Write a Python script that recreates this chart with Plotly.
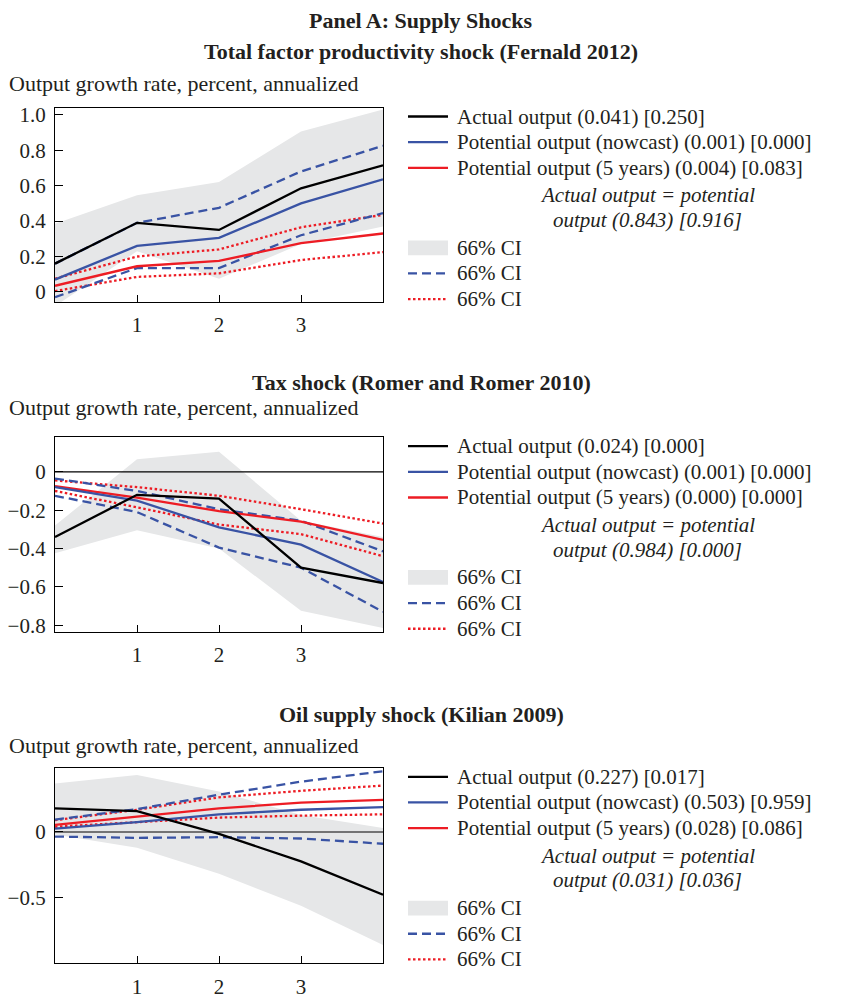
import plotly.graph_objects as go

# ---------------- data ----------------
horizon = [0, 1, 2, 3, 4]
x_ticks = [1, 2, 3]

panel_titles = ["Total factor productivity shock (Fernald 2012)",
                "Tax shock (Romer and Romer 2010)",
                "Oil supply shock (Kilian 2009)"]
main_title = "Panel A: Supply Shocks"
y_label = "Output growth rate, percent, annualized"

# TFP shock
tfp_actual = [0.16, 0.39, 0.35, 0.585, 0.715]
tfp_actual_hi = [0.385, 0.545, 0.62, 0.905, 1.03]
tfp_actual_lo = [-0.08, 0.23, 0.075, 0.27, 0.37]
tfp_now = [0.07, 0.26, 0.305, 0.50, 0.635]
tfp_now_hi = [0.16, 0.39, 0.475, 0.68, 0.825]
tfp_now_lo = [-0.03, 0.135, 0.135, 0.32, 0.445]
tfp_5y = [0.035, 0.145, 0.175, 0.275, 0.33]
tfp_5y_hi = [0.075, 0.20, 0.24, 0.365, 0.435]
tfp_5y_lo = [0.005, 0.085, 0.105, 0.18, 0.225]

# Tax shock
tax_actual = [-0.34, -0.12, -0.14, -0.50, -0.58]
tax_actual_hi = [-0.28, 0.065, 0.105, -0.255, -0.34]
tax_actual_lo = [-0.425, -0.305, -0.40, -0.725, -0.815]
tax_now = [-0.08, -0.15, -0.29, -0.38, -0.575]
tax_now_hi = [-0.035, -0.10, -0.195, -0.255, -0.415]
tax_now_lo = [-0.125, -0.21, -0.395, -0.50, -0.73]
tax_5y = [-0.075, -0.135, -0.205, -0.26, -0.355]
tax_5y_hi = [-0.045, -0.08, -0.125, -0.195, -0.27]
tax_5y_lo = [-0.10, -0.185, -0.275, -0.325, -0.44]

# Oil supply shock
oil_actual = [0.18, 0.16, -0.015, -0.225, -0.48]
oil_actual_hi = [0.37, 0.435, 0.31, 0.13, 0.03]
oil_actual_lo = [-0.02, -0.12, -0.32, -0.565, -0.865]
oil_now = [0.025, 0.075, 0.135, 0.17, 0.19]
oil_now_hi = [0.095, 0.175, 0.285, 0.385, 0.465]
oil_now_lo = [-0.035, -0.045, -0.04, -0.05, -0.09]
oil_5y = [0.055, 0.12, 0.18, 0.225, 0.245]
oil_5y_hi = [0.09, 0.17, 0.265, 0.315, 0.355]
oil_5y_lo = [0.04, 0.075, 0.11, 0.125, 0.135]

# legend statistics
legend_stats = [
    ["(0.041) [0.250]", "(0.001) [0.000]", "(0.004) [0.083]", "(0.843) [0.916]"],
    ["(0.024) [0.000]", "(0.001) [0.000]", "(0.000) [0.000]", "(0.984) [0.000]"],
    ["(0.227) [0.017]", "(0.503) [0.959]", "(0.028) [0.086]", "(0.031) [0.036]"],
]

y_tickvals = [[0, 0.2, 0.4, 0.6, 0.8, 1.0], [0, -0.2, -0.4, -0.6, -0.8], [0, -0.5]]
y_ticktext = [["0", "0.2", "0.4", "0.6", "0.8", "1.0"],
              ["0", "\u22120.2", "\u22120.4", "\u22120.6", "\u22120.8"],
              ["0", "\u22120.5"]]
y_ranges = [[-0.057, 1.04], [-0.834, 0.18], [-1.005, 0.49]]
zero_line = [False, True, True]

panels = [
    (tfp_actual, tfp_actual_hi, tfp_actual_lo, tfp_now, tfp_now_hi, tfp_now_lo, tfp_5y, tfp_5y_hi, tfp_5y_lo),
    (tax_actual, tax_actual_hi, tax_actual_lo, tax_now, tax_now_hi, tax_now_lo, tax_5y, tax_5y_hi, tax_5y_lo),
    (oil_actual, oil_actual_hi, oil_actual_lo, oil_now, oil_now_hi, oil_now_lo, oil_5y, oil_5y_hi, oil_5y_lo),
]

# ---------------- style / layout ----------------
W, H = 842, 999
BLACK = "#000000"
BLUE = "#3953a4"
RED = "#ed1c24"
GRAY = "#e6e7e8"
TXT = "#231f20"
FONT = "Liberation Serif"
LW = 2.3
DASH = "9px,5px"
DOT = "2.5px,2.5px"

plot_left, plot_right = 55, 383
plot_tops = [105, 439, 774]
plot_bottoms = [302, 636, 972]


def fx(px):
    return px / W


def fy(py):
    return 1 - py / H


fig = go.Figure()
layout = dict(
    width=W, height=H, margin=dict(l=0, r=0, t=0, b=0),
    paper_bgcolor="white", plot_bgcolor="white", showlegend=False,
    font=dict(family=FONT, size=21, color=TXT),
)
annotations = []
shapes = []

for i, p in enumerate(panels):
    act, act_hi, act_lo, now, now_hi, now_lo, y5, y5_hi, y5_lo = p
    sfx = "" if i == 0 else str(i + 1)
    xa, ya = "x" + sfx, "y" + sfx
    # CI band for actual output
    fig.add_trace(go.Scatter(x=horizon + horizon[::-1], y=act_hi + act_lo[::-1],
                             fill="toself", fillcolor=GRAY, line=dict(width=0),
                             mode="lines", xaxis=xa, yaxis=ya, hoverinfo="skip"))
    if zero_line[i]:
        fig.add_trace(go.Scatter(x=[horizon[0], horizon[-1]], y=[0, 0], mode="lines",
                                 line=dict(color=BLACK, width=1.2), xaxis=xa, yaxis=ya,
                                 hoverinfo="skip"))
    for ys, col, dash in [(y5_hi, RED, DOT), (y5_lo, RED, DOT),
                          (now_hi, BLUE, DASH), (now_lo, BLUE, DASH),
                          (y5, RED, "solid"), (now, BLUE, "solid"), (act, BLACK, "solid")]:
        fig.add_trace(go.Scatter(x=horizon, y=ys, mode="lines",
                                 line=dict(color=col, width=LW, dash=dash),
                                 xaxis=xa, yaxis=ya))
    layout["xaxis" + sfx] = dict(
        domain=[fx(plot_left), fx(plot_right)], anchor=ya, range=[0, 4],
        tickvals=x_ticks, ticktext=[str(t) for t in x_ticks],
        ticks="inside", ticklen=7, tickwidth=1.2, tickcolor=BLACK,
        showline=True, linecolor=BLACK, linewidth=1.3, mirror=True,
        showgrid=False, zeroline=False, ticklabelstandoff=4,
        tickfont=dict(family=FONT, size=21, color=TXT),
    )
    layout["yaxis" + sfx] = dict(
        domain=[fy(plot_bottoms[i]), fy(plot_tops[i])], anchor=xa, range=y_ranges[i],
        tickvals=y_tickvals[i], ticktext=y_ticktext[i],
        ticks="inside", ticklen=8, tickwidth=1.2, tickcolor=BLACK,
        showline=True, linecolor=BLACK, linewidth=1.3, mirror=True,
        showgrid=False, zeroline=False, ticklabelstandoff=4,
        tickfont=dict(family=FONT, size=21, color=TXT),
    )

    top = plot_tops[i]
    # titles
    title_y = [48, 383, 720][i]
    annotations.append(dict(x=0.5, y=fy(title_y), xref="paper", yref="paper",
                            text="<b>" + panel_titles[i] + "</b>", showarrow=False,
                            xanchor="center", yanchor="middle",
                            font=dict(family=FONT, size=22, color=TXT)))
    lab_y = [81, 409, 751][i]
    annotations.append(dict(x=fx(7), y=fy(lab_y), xref="paper", yref="paper",
                            text=y_label, showarrow=False, xanchor="left", yanchor="middle",
                            font=dict(family=FONT, size=22, color=TXT)))

    # legend (drawn beside each panel)
    st = legend_stats[i]
    rows = [(top + 9, "Actual output " + st[0], BLACK, "solid"),
            (top + 35, "Potential output (nowcast) " + st[1], BLUE, "solid"),
            (top + 61, "Potential output (5 years) " + st[2], RED, "solid"),
            (top + 168, "66% CI", BLUE, DASH),
            (top + 194, "66% CI", RED, DOT)]
    for ry, txt, col, dash in rows:
        shapes.append(dict(type="line", xref="paper", yref="paper",
                           x0=fx(408), x1=fx(448), y0=fy(ry), y1=fy(ry),
                           line=dict(color=col, width=LW, dash=dash)))
        annotations.append(dict(x=fx(455), y=fy(ry), xref="paper", yref="paper", text=txt,
                                showarrow=False, xanchor="left", yanchor="middle",
                                font=dict(family=FONT, size=21, color=TXT)))
    ry = top + 142
    shapes.append(dict(type="rect", xref="paper", yref="paper",
                       x0=fx(408), x1=fx(448), y0=fy(ry - 7.5), y1=fy(ry + 7.5),
                       fillcolor=GRAY, line=dict(width=0)))
    annotations.append(dict(x=fx(455), y=fy(ry), xref="paper", yref="paper", text="66% CI",
                            showarrow=False, xanchor="left", yanchor="middle",
                            font=dict(family=FONT, size=21, color=TXT)))
    annotations.append(dict(x=fx(647), y=fy(top + 89), xref="paper", yref="paper",
                            text="<i>Actual output = potential</i>", showarrow=False,
                            xanchor="center", yanchor="middle",
                            font=dict(family=FONT, size=21, color=TXT)))
    annotations.append(dict(x=fx(647), y=fy(top + 114), xref="paper", yref="paper",
                            text="<i>output " + st[3] + "</i>", showarrow=False,
                            xanchor="center", yanchor="middle",
                            font=dict(family=FONT, size=21, color=TXT)))

annotations.append(dict(x=0.5, y=fy(17), xref="paper", yref="paper",
                        text="<b>" + main_title + "</b>", showarrow=False,
                        xanchor="center", yanchor="middle",
                        font=dict(family=FONT, size=22, color=TXT)))

layout["annotations"] = annotations
layout["shapes"] = shapes
fig.update_layout(**layout)
fig.write_html("out.html", config={"displayModeBar": False})

# remove the default page margin so the figure sits at the window's top-left corner
with open("out.html", "r", encoding="utf-8") as f:
    html = f.read()
html = html.replace("<body>", '<body style="margin:0;padding:0;overflow:hidden">', 1)
html = html.replace("<head>", '<head><style>html,body{margin:0;padding:0}</style>', 1)
with open("out.html", "w", encoding="utf-8") as f:
    f.write(html)
